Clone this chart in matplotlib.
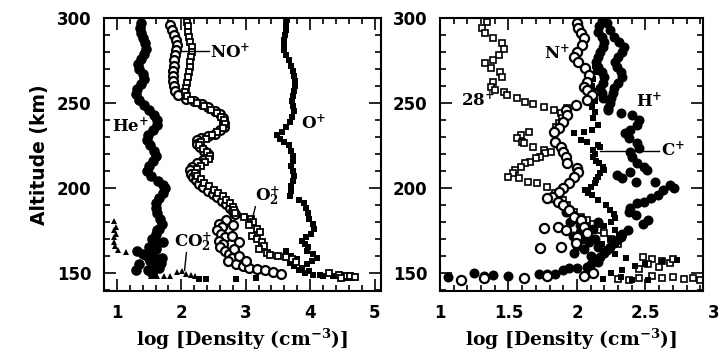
import matplotlib
matplotlib.use('Agg')
import matplotlib.pyplot as plt
from matplotlib.ticker import MultipleLocator

plt.rcParams['font.family'] = ['DejaVu Sans']
plt.rcParams['font.weight'] = 'bold'
plt.rcParams['mathtext.fontset'] = 'dejavuserif'

# ---------------- Left panel data (altitude km, log density) ----------------
he_alt = [297, 294, 291, 288, 285, 282, 279, 276, 273, 270, 267, 264, 261, 258, 255, 252,
          249, 246, 243, 240, 237, 234, 231, 228, 225, 222, 219, 216, 213, 210, 207, 204,
          202, 200, 197, 194, 191, 188, 185, 182, 179, 176, 173, 170, 167, 164, 161, 158,
          156, 154, 152, 150, 163, 161, 155, 152, 160, 165, 157, 170, 175, 168, 159, 153]
he_x = [1.38, 1.36, 1.37, 1.41, 1.44, 1.45, 1.42, 1.37, 1.33, 1.35, 1.40, 1.42, 1.37, 1.32, 1.30, 1.34,
        1.42, 1.50, 1.58, 1.63, 1.63, 1.56, 1.48, 1.46, 1.52, 1.58, 1.60, 1.56, 1.50, 1.47, 1.53, 1.64,
        1.72, 1.75, 1.72, 1.65, 1.60, 1.60, 1.63, 1.67, 1.70, 1.66, 1.60, 1.58, 1.63, 1.60, 1.55, 1.62,
        1.68, 1.58, 1.48, 1.55, 1.32, 1.40, 1.35, 1.30, 1.47, 1.50, 1.52, 1.55, 1.62, 1.72, 1.70, 1.65]

o_alt = [299, 296, 293, 290, 287, 284, 281, 278, 275, 272, 269, 266, 263, 260, 257, 254,
         251, 248, 245, 242, 239, 236, 233, 231, 229, 227, 225, 222, 219, 216, 213, 210,
         207, 204, 201, 198, 195, 193, 191, 188, 185, 182, 179, 176, 173, 171, 169, 167,
         165, 163, 161, 159, 157, 155, 153, 151, 149, 148, 147, 147,
         163, 160, 158, 156, 154, 152, 150, 149, 148, 146.5, 146.5, 146.5, 147]
o_x = [3.64, 3.63, 3.62, 3.61, 3.60, 3.59, 3.59, 3.63, 3.67, 3.70, 3.73, 3.75, 3.76, 3.77, 3.75, 3.73,
       3.72, 3.73, 3.75, 3.72, 3.68, 3.63, 3.57, 3.49, 3.53, 3.60, 3.67, 3.71, 3.74, 3.73, 3.71, 3.73,
       3.75, 3.73, 3.71, 3.70, 3.68, 3.82, 3.90, 3.93, 3.96, 3.99, 4.04, 4.06, 4.02, 3.93, 3.88, 3.92,
       3.97, 3.95, 4.05, 4.10, 4.03, 3.95, 3.88, 3.98, 4.15, 4.35, 4.55, 4.65,
       3.62, 3.70, 3.80, 3.68, 3.75, 3.82, 3.92, 4.05, 4.20, 2.38, 2.85, 2.28, 3.16]

noc_alt = [296, 293, 290, 287, 284, 281, 278, 275, 272, 269, 266, 263, 260, 257, 254.5, 252.5,
           251, 249.5, 247.5, 245.5, 243.5, 241, 238.5, 236, 234, 232, 230.5, 229.5, 228, 226, 224, 222,
           220, 218, 216.5, 214.5, 212.5, 210.5, 208.5, 206.5, 204.5, 202.5, 200.5, 198.5, 196.5, 194.5,
           192.5, 190.5, 188.5, 186.5, 184.5, 181, 179, 177, 175, 173, 171, 169, 167, 165, 163, 161,
           159, 157, 155, 154, 153, 152.5, 151.5, 150.5, 149.5, 178, 172, 168, 164, 160, 157]
noc_x = [1.83, 1.85, 1.88, 1.91, 1.93, 1.92, 1.90, 1.89, 1.88, 1.87, 1.87, 1.87, 1.88, 1.90, 1.95, 2.07,
         2.20, 2.32, 2.42, 2.52, 2.60, 2.65, 2.67, 2.66, 2.60, 2.52, 2.42, 2.30, 2.24, 2.24, 2.29, 2.36,
         2.42, 2.40, 2.33, 2.24, 2.17, 2.14, 2.15, 2.18, 2.23, 2.27, 2.34, 2.41, 2.49, 2.56,
         2.63, 2.70, 2.76, 2.80, 2.84, 2.70, 2.58, 2.63, 2.55, 2.62, 2.68, 2.58, 2.65, 2.60, 2.68, 2.74,
         2.78, 2.72, 2.85, 2.95, 3.05, 3.17, 3.30, 3.43, 3.55, 2.80, 2.78, 2.90, 2.82, 2.90, 3.00]

nos_alt = [297.8, 295, 292, 289, 286, 283, 280, 277, 274, 271, 268, 265, 262, 259, 256.5, 254,
           252, 250, 248, 246, 244, 242, 240, 237.5, 235, 233, 231, 229, 227, 225, 223, 221,
           219, 217, 215, 213, 211, 209, 207, 205, 203, 201, 199, 197, 195, 193, 191, 189, 187, 185,
           183, 181.5, 180, 178, 176, 174, 172, 170, 168, 166, 164, 162, 160.5, 160, 159.5, 158, 156.5,
           150, 149, 148.5, 148, 147.5, 147]
nos_x = [2.09, 2.10, 2.11, 2.12, 2.14, 2.16, 2.16, 2.15, 2.14, 2.13, 2.12, 2.11, 2.09, 2.07, 2.06, 2.09,
         2.15, 2.25, 2.36, 2.46, 2.55, 2.62, 2.66, 2.68, 2.64, 2.56, 2.47, 2.38, 2.30, 2.28, 2.33, 2.40,
         2.44, 2.43, 2.37, 2.30, 2.24, 2.22, 2.25, 2.30, 2.36, 2.43, 2.50, 2.57, 2.64, 2.70, 2.76, 2.80, 2.82, 2.83,
         2.98, 3.08, 3.12, 3.05, 3.18, 3.22, 3.10, 3.17, 3.25, 3.28, 3.20, 3.33, 3.38, 3.50, 3.62, 3.72, 3.78,
         4.30, 4.45, 4.55, 4.62, 4.70, 4.48]

co2_alt = [180.5, 177, 175, 173, 171, 168.5, 166, 163.5, 162.5, 163, 161, 148, 148, 148.5, 148,
           150.5, 151, 149.5, 149, 148.5]
co2_x = [0.95, 0.98, 0.96, 0.98, 0.95, 0.96, 0.97, 1.02, 1.14, 1.35, 1.44, 1.53, 1.63, 1.73, 1.83,
         1.94, 2.01, 2.08, 2.15, 2.22]

# ---------------- Right panel data ----------------
m28_alt = [297.8, 293.9, 291, 288, 285, 282, 278, 275.3, 273.3, 270.4, 268.4, 265.5, 262.5, 259.6,
           257.6, 256.7, 254.7, 252.7, 250.8, 249.4, 247.5, 245.9, 243.9, 246.9, 241, 238, 236,
           233, 231.2, 229.2, 227.3, 226.3, 224.3, 222.4, 221.4, 220.4, 218.4, 217.4, 215.5, 214.5,
           212.5, 210.6, 208.6, 206.7, 205.7, 203.7, 202.7, 200.8, 196.9, 193, 190, 186, 183, 181,
           179, 177.2, 175.3, 173.3, 170, 167, 159.6, 158, 157, 156, 155, 153.7, 152.5, 158.5,
           148, 147, 147.5, 146.5, 147, 146, 146.5, 146, 147]
m28_x = [1.34, 1.31, 1.33, 1.39, 1.45, 1.47, 1.43, 1.39, 1.33, 1.37, 1.44, 1.45, 1.39, 1.37,
         1.40, 1.47, 1.49, 1.56, 1.62, 1.68, 1.76, 1.83, 1.88, 1.93, 1.89, 1.87, 1.85,
         1.65, 1.59, 1.56, 1.60, 1.61, 1.68, 1.76, 1.81, 1.77, 1.73, 1.70, 1.66, 1.62,
         1.59, 1.55, 1.53, 1.50, 1.58, 1.64, 1.71, 1.78, 1.84, 1.90, 1.93, 1.98, 2.03, 2.07,
         2.12, 2.05, 2.15, 2.20, 2.25, 2.30, 2.48, 2.55, 2.62, 2.68, 2.52, 2.60, 2.45, 2.70,
         2.55, 2.62, 2.70, 2.78, 2.85, 2.90, 2.30, 2.38, 2.45]

np_alt = [296.9, 293.9, 291, 288, 284, 280.2, 277.3, 274.3, 270.4, 266.5, 262.5, 259.6, 257.7,
          254.7, 251.8, 248.8, 245.9, 243, 239, 235.1, 233.1, 227.3, 224.3, 221, 218, 214.5, 211.6,
          209.6, 206.7, 202.7, 199.8, 197.8, 194.9, 193.9, 192, 190, 187, 183.1, 181.2, 177.2, 173.3,
          171.3, 167.4, 176.3, 177.3, 175.3, 164.5, 165.5, 150, 148, 146, 147, 147, 148]
np_x = [2.00, 2.01, 2.03, 2.05, 2.04, 2.00, 1.98, 2.01, 2.06, 2.09, 2.07, 2.05, 2.07,
        2.11, 2.07, 1.99, 1.92, 1.93, 1.90, 1.87, 1.83, 1.84, 1.88, 1.90, 1.92, 1.93, 2.00,
        2.01, 1.98, 1.94, 1.90, 1.87, 1.82, 1.78, 1.86, 1.90, 1.94, 1.98, 2.03, 2.05, 2.07,
        2.00, 1.99, 1.76, 1.86, 1.92, 1.73, 1.88, 2.12, 2.05, 1.15, 1.32, 1.61, 1.78]

hp_alt = [297, 293, 289, 286, 283, 280, 277, 274, 271, 268, 265, 262, 259, 256, 253, 250,
          298, 295, 292, 289, 286, 283, 280, 277, 274, 271, 268, 265, 262, 259, 256, 253,
          247, 245.9, 244, 243, 240, 237, 234.1, 232.2, 229.2, 226.3, 223.3, 221.4, 218.4, 214.5,
          212.5, 210.6, 209.6, 207.6, 205.7, 203.7, 203.7, 201.8, 199.8, 198.8, 195.9, 193.9, 192,
          191, 188, 186, 184.1, 181.2, 179, 175.3, 173, 171.4, 169.5, 167.5, 165.5, 163.5, 161.5,
          159.6, 156.7, 155, 153.7, 152.7, 152.7, 151.8, 149.4, 149.4, 149.4, 148.2, 148.8, 148.4,
          149.8, 147.8, 186, 184, 182, 180, 178, 176, 174, 172, 170, 168, 166, 164, 162, 160, 158,
          176, 180, 170, 165]
hp_x = [2.22, 2.24, 2.27, 2.31, 2.34, 2.33, 2.30, 2.28, 2.29, 2.32, 2.33, 2.30, 2.27, 2.26, 2.25, 2.24,
        2.18, 2.16, 2.15, 2.18, 2.20, 2.19, 2.17, 2.15, 2.14, 2.15, 2.18, 2.20, 2.19, 2.17, 2.18, 2.19,
        2.23, 2.23, 2.32, 2.40, 2.45, 2.44, 2.39, 2.35, 2.38, 2.44, 2.45, 2.39, 2.40, 2.44,
        2.49, 2.51, 2.39, 2.29, 2.33, 2.43, 2.57, 2.68, 2.71, 2.63, 2.59, 2.54, 2.49,
        2.44, 2.39, 2.38, 2.43, 2.52, 2.48, 2.37, 2.33, 2.32, 2.29, 2.27, 2.24, 2.22, 2.20,
        2.17, 2.15, 2.10, 2.07, 2.00, 1.94, 1.90, 1.84, 1.78, 1.72, 1.50, 1.39, 1.32,
        1.25, 1.06, 1.92, 1.97, 2.00, 1.95, 2.02, 2.07, 2.02, 1.97, 2.04, 2.09, 2.00, 2.05, 1.98, 2.10, 2.13,
        2.12, 2.15, 2.13, 2.15]

cp_alt = [276, 272, 268, 264, 260, 257, 251, 247.8, 244.9, 241, 237, 234.1, 232.2, 233.1, 228.2,
          227.3, 225.3, 224.3, 222.4, 220, 218.4, 216, 214.5, 212.5, 210.6, 208.6, 206.7, 204.7,
          202.7, 200.8, 198.8, 197, 195.9, 193, 190, 187, 184.5, 182.2, 180, 177.5, 175, 172, 170,
          167, 164, 161, 159, 157.6, 157, 155.5, 154, 152, 150, 147.8, 146.5, 146, 146]
cp_x = [2.15, 2.13, 2.14, 2.12, 2.11, 2.12, 2.13, 2.11, 2.13, 2.12, 2.15, 2.11, 1.98, 2.05, 2.03,
        2.07, 2.15, 2.17, 2.12, 2.13, 2.12, 2.14, 2.16, 2.19, 2.20, 2.17, 2.15, 2.14,
        2.13, 2.10, 2.06, 2.08, 2.11, 2.15, 2.21, 2.24, 2.27, 2.28, 2.25, 2.20, 2.28, 2.31, 2.24,
        2.18, 2.22, 2.28, 2.36, 2.73, 2.62, 2.50, 2.42, 2.33, 2.25, 2.32, 2.19, 2.40, 2.52]

# ---------------- Figure ----------------
W, H = 724, 355
fig = plt.figure(figsize=(W / 100, H / 100), dpi=100)


def add_ax(l, r, t, b):
    return fig.add_axes([l / W, 1 - b / H, (r - l) / W, (b - t) / H])


ax1 = add_ax(104, 381, 18, 291)
ax2 = add_ax(440, 703, 18, 291)

serif = dict(family='DejaVu Serif', weight='bold')

# Left panel marks
ax1.plot(he_x, he_alt, 'o', color='black', ms=7.6, mew=0)
ax1.plot(o_x, o_alt, 's', color='black', ms=5.0, mew=0)
ax1.plot(noc_x, noc_alt, 'o', mfc='white', mec='black', ms=6.4, mew=1.6)
ax1.plot(nos_x, nos_alt, 's', mfc='white', mec='black', ms=4.8, mew=1.3)
ax1.plot(co2_x, co2_alt, '^', color='black', ms=5.0, mew=0)

# Right panel marks
ax2.plot(m28_x, m28_alt, 's', mfc='white', mec='black', ms=4.8, mew=1.2)
ax2.plot(hp_x, hp_alt, 'o', color='black', ms=7.2, mew=0)
ax2.plot(cp_x, cp_alt, 's', color='black', ms=5.0, mew=0)
ax2.plot(np_x, np_alt, 'o', mfc='white', mec='black', ms=6.6, mew=1.6)

# Species labels, left
FS = 12
ax1.text(0.92, 236, r'$\mathbf{He}^{\mathbf{+}}$', fontsize=FS, va='center', ha='left')
ax1.text(2.44, 280, r'$\mathbf{NO}^{\mathbf{+}}$', fontsize=FS, va='center', ha='left')
ax1.plot([1.99, 2.43], [280.5, 280.5], color='black', lw=1.0)
ax1.text(3.86, 238, r'$\mathbf{O}^{\mathbf{+}}$', fontsize=FS, va='center', ha='left')
ax1.text(3.14, 195, r'$\mathbf{O}_{\mathbf{2}}^{\mathbf{+}}$', fontsize=FS, va='center', ha='left')
ax1.plot([3.15, 3.09], [189, 180], color='black', lw=1.0)
ax1.text(1.88, 168, r'$\mathbf{CO}_{\mathbf{2}}^{\mathbf{+}}$', fontsize=FS, va='center', ha='left')
ax1.plot([2.08, 2.05], [162, 151.5], color='black', lw=1.0)

# Species labels, right
ax2.text(1.15, 251.5, r'$\mathbf{28}^{\mathbf{+}}$', fontsize=FS, va='center', ha='left')
ax2.text(1.76, 279, r'$\mathbf{N}^{\mathbf{+}}$', fontsize=FS, va='center', ha='left')
ax2.text(2.43, 251, r'$\mathbf{H}^{\mathbf{+}}$', fontsize=FS, va='center', ha='left')
ax2.text(2.61, 222, r'$\mathbf{C}^{\mathbf{+}}$', fontsize=FS, va='center', ha='left')
ax2.plot([2.17, 2.60], [221.8, 221.8], color='black', lw=1.0)

# Axes styling
for ax in (ax1, ax2):
    ax.set_ylim(139.4, 300)
    ax.yaxis.set_major_locator(MultipleLocator(50))
    ax.yaxis.set_minor_locator(MultipleLocator(10))
    ax.tick_params(which='both', direction='in', top=True, right=True, width=1.2,
                   labelsize=12, pad=9)
    ax.tick_params(which='major', length=8.5)
    ax.tick_params(which='minor', length=4.3)
    for s in ax.spines.values():
        s.set_linewidth(1.5)
    ax.set_xlabel(r'log [Density (cm$^{\mathbf{-3}}$)]', fontsize=13.5, labelpad=4, **serif)

ax1.set_xlim(0.8, 5.1)
ax1.xaxis.set_major_locator(MultipleLocator(1))
ax1.xaxis.set_minor_locator(MultipleLocator(0.2))
ax1.set_ylabel('Altitude (km)', fontsize=13.5, fontweight='bold', labelpad=6)

ax2.set_xlim(1.0, 2.92)
ax2.xaxis.set_minor_locator(MultipleLocator(0.1))
ax2.set_xticks([1, 1.5, 2, 2.5])
ax2.set_xticklabels(['1', '1.5', '2', '2.5'])
ax2.annotate('3', xy=(3.0, 0), xycoords=('data', 'axes fraction'), xytext=(0, -9),
             textcoords='offset points', ha='center', va='top', fontsize=12,
             fontweight='bold', annotation_clip=False)

fig.savefig('out.png', dpi=100)
